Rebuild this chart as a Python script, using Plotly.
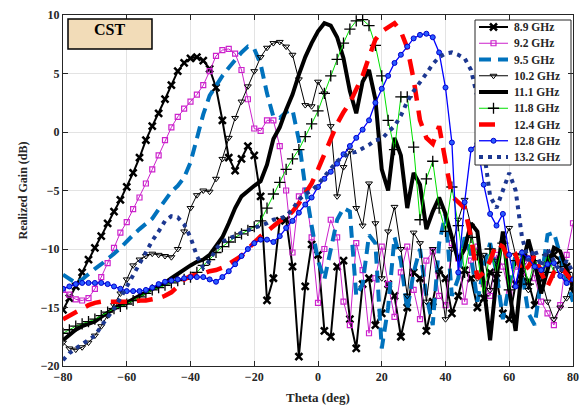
import plotly.graph_objects as go

theta = list(range(-80, 81, 2))

g89 = [-15.2, -14.2, -13.2, -12.0, -10.9, -9.9, -8.9, -7.8, -6.8, -5.8,
       -4.7, -3.5, -2.2, -0.7, 0.5, 1.6, 2.8, 4.0, 5.2, 5.9,
       6.3, 6.4, 6.1, 5.4, 3.8, 1.0, -2.2, -3.3, -2.3, -1.2,
       -2.0, -5.5, -14.4, -12.5, -7.6, -7.5, -11.5, -19.2, -13.2, -9.6,
       -10.5, -17.0, -17.5, -11.5, -11.0, -16.0, -18.5, -13.0, -12.5, -16.5,
       -15.5, -13.0, -14.0, -17.5, -15.0, -12.0, -12.5, -17.0, -14.5, -11.8,
       -12.5, -15.5, -14.0, -11.8, -12.5, -15.0, -14.2, -12.0, -12.5, -15.5,
       -16.0, -13.0, -11.5, -12.8, -14.8, -12.5, -10.8, -10.5, -11.0, -11.5,
       -13.6]

g92 = [-13.5, -13.9, -14.3, -14.4, -14.2, -13.4, -12.4, -11.2, -9.9, -8.6,
       -7.7, -6.6, -5.6, -4.4, -3.2, -2.0, -0.7, 0.4, 1.3, 2.0,
       2.6, 3.2, 4.0, 5.2, 6.5, 7.0, 7.1, 6.7, 5.3, 2.8,
       0.3, 0.1, 1.0, 1.0, -1.2, -5.0, -10.3, -5.5, -5.0, -9.0,
       -14.6, -10.0, -7.5, -9.0, -14.5, -16.5, -9.5, -11.8, -17.2, -12.5,
       -9.8, -13.0, -15.8, -12.0, -9.8, -13.5, -16.0, -11.0, -10.2, -14.0,
       -14.8, -9.5, -10.8, -14.5, -11.0, -9.8, -13.0, -14.0, -10.5, -11.5,
       -13.8, -11.5, -12.0, -10.8, -12.5, -14.5, -15.5, -16.5, -14.8, -10.5,
       -7.8]

g95 = [-12.2, -12.6, -12.9, -12.6, -12.1, -11.7, -11.3, -10.9, -10.4, -9.9,
       -9.3, -8.8, -8.3, -7.9, -7.4, -6.6, -5.8, -5.1, -4.6, -3.9,
       -2.6, -0.6, 1.5, 3.1, 4.0, 4.8, 5.5, 6.2, 6.8, 7.3,
       7.1, 5.8, 3.3, 1.3, 1.2, 1.7, 1.9, -0.7, -4.7, -8.0,
       -11.0, -12.6, -10.0, -7.5, -6.5, -6.8, -14.0, -13.0, -8.8, -9.5,
       -18.5, -15.0, -9.0, -11.0, -15.2, -12.0, -10.0, -14.0, -16.5, -9.5,
       -7.0, -14.0, -12.5, -9.0, -10.5, -14.5, -11.5, -9.5, -12.0, -16.0,
       -13.0, -10.5, -12.0, -15.5, -16.5, -12.5, -8.8, -8.6, -10.5, -12.8,
       -14.5]

g102 = [-18.0, -18.5, -18.6, -18.4, -18.0, -17.4, -16.6, -15.7, -14.8, -13.8,
        -12.6, -11.4, -10.9, -10.6, -10.4, -10.5, -10.6, -10.7, -10.0, -8.5,
        -6.5, -5.4, -5.0, -5.1, -4.0, -2.3, -0.5, 1.2, 2.6, 3.9,
        5.2, 6.4, 7.2, 7.6, 7.7, 7.3, 6.6, 4.5, 2.3, 2.2,
        4.3, 3.3, 0.5, -5.5, -3.0, -1.6, -6.5, -8.0, -4.4, -7.8,
        -12.5, -8.5, -6.4, -10.0, -14.0, -8.6, -9.5, -14.5, -10.0, -12.0,
        -16.0, -10.0, -7.5, -5.8, -8.0, -12.5, -10.5, -13.5, -11.0, -9.5,
        -8.2, -10.5, -12.0, -13.5, -11.5, -12.5, -14.5, -16.0, -15.0, -14.2,
        -12.6]

g111 = [-17.8, -17.3, -16.9, -16.6, -16.4, -16.2, -15.8, -15.4, -15.1, -14.8,
        -14.6, -14.3, -14.0, -13.7, -13.4, -13.2, -12.9, -12.5, -12.1, -11.7,
        -11.4, -11.1, -10.9, -10.5, -9.8, -9.0, -7.8, -6.5, -5.5, -5.0,
        -4.6, -4.2, -2.8, -0.6, 0.4, 1.9, 3.2, 4.9, 6.4, 7.6,
        8.6, 9.3, 9.1, 8.1, 6.3, 3.5, 1.6, 4.3, 5.3, 2.8,
        -3.2, -5.0, -0.5, -2.0, -6.5, -3.5, -4.5, -8.3, -6.8, -5.6,
        -7.0, -9.0, -11.0, -10.0, -7.8, -8.5, -13.5, -17.8, -12.5, -8.5,
        -13.5, -17.0, -11.5, -9.2, -11.2, -13.8, -11.8, -9.9, -10.2, -11.8,
        -13.2]

g118 = [-17.2, -16.9, -16.6, -16.4, -16.2, -16.0, -15.7, -15.4, -15.1, -14.9,
        -14.7, -14.4, -14.1, -13.8, -13.5, -13.3, -13.1, -12.9, -12.7, -12.6,
        -12.4, -12.0, -11.4, -10.9, -10.3, -9.8, -9.4, -9.0, -8.7, -8.4,
        -8.1, -7.6, -6.5, -5.3, -4.3, -3.2, -2.3, -1.5, -0.4, 0.7,
        1.8, 3.3, 4.8, 6.2, 7.6, 8.8, 9.5, 9.6, 9.1, 7.4,
        4.8, 1.0, -1.5, 3.0, 3.0, -1.3, -7.5, -4.0, -2.5, -6.5,
        -8.5, -4.7, -8.0, -12.0, -9.0, -10.5, -14.0, -10.0, -12.0, -9.5,
        -13.5, -11.0, -10.5, -13.0, -11.0, -12.0, -10.5, -12.0, -11.5, -12.0,
        -12.5]

g124 = [-16.0, -15.7, -15.3, -15.0, -14.8, -14.6, -14.5, -14.5, -14.5, -14.5,
        -14.5, -14.5, -14.4, -14.4, -14.3, -14.2, -14.0, -13.7, -13.2, -12.6,
        -12.3, -12.2, -12.1, -11.9, -11.8, -11.6, -11.3, -10.9, -10.6, -10.0,
        -9.4, -8.9, -8.5, -8.0, -7.6, -7.3, -6.8, -6.1, -5.3, -4.4,
        -3.2, -2.0, -0.6, 0.7, 1.7, 2.5, 3.7, 4.8, 6.4, 7.9,
        8.6, 9.0, 9.3, 8.6, 7.2, 4.5, 1.0, -0.5, -1.0, 0.5,
        -2.5, -5.5, -6.0, -6.5, -9.0, -12.5, -12.0, -11.0, -9.5, -9.8,
        -11.0, -10.5, -12.0, -11.5, -10.5, -12.0, -13.2, -12.0, -11.5, -12.2,
        -12.8]

g128 = [-13.4, -13.2, -13.0, -12.9, -12.9, -12.9, -12.9, -13.0, -13.2, -13.4,
        -13.6, -13.6, -13.6, -13.5, -13.3, -13.0, -12.8, -12.7, -12.6, -12.5,
        -12.4, -12.4, -12.4, -12.6, -12.8, -12.4, -11.9, -11.3, -10.6, -10.0,
        -9.5, -9.2, -9.2, -9.4, -8.9, -8.2, -7.6, -6.9, -6.2, -5.6,
        -4.7, -4.0, -3.4, -2.7, -1.9, -1.2, -0.5, 0.2, 1.0, 2.5,
        3.7, 4.8, 5.9, 6.6, 7.3, 8.0, 8.3, 8.4, 8.1, 6.8,
        3.8, -0.9, -12.0, -6.0, -1.5, -1.0, -4.5, -7.0, -8.0, -7.0,
        -10.5, -13.2, -10.3, -10.8, -11.5, -11.8, -11.3, -11.2, -12.3, -12.9,
        -12.6]

g132 = [-19.5, -18.9, -18.5, -18.1, -17.8, -17.4, -16.6, -15.9, -15.1, -14.2,
        -13.2, -12.2, -11.2, -10.3, -9.3, -8.5, -7.6, -7.2, -7.3, -7.9,
        -9.0, -10.6, -11.6, -11.0, -10.0, -9.4, -9.1, -8.9, -8.6, -8.4,
        -8.2, -8.0, -7.8, -7.5, -7.4, -7.2, -6.6, -5.8, -5.3, -5.0,
        -4.5, -3.8, -3.1, -2.5, -2.1, -1.8, -1.7, -1.4, -1.1, -0.7,
        -0.6, 0.0, 0.5, 1.4, 2.6, 3.5, 4.2, 5.0, 5.8, 6.4,
        6.7, 6.8, 6.6, 6.3, 5.3, 3.0, -1.5, -5.5, -6.5, -5.0,
        -3.5, -5.0, -9.0, -11.0, -10.0, -11.5, -10.0, -11.0, -12.0, -11.0,
        -12.0]

names = ["8.9 GHz", "9.2 GHz", "9.5 GHz", "10.2 GHz", "11.1 GHz",
         "11.8 GHz", "12.4 GHz", "12.8 GHz", "13.2 GHz"]
series = [g89, g92, g95, g102, g111, g118, g124, g128, g132]

styles = [
    dict(line=dict(color="black", width=2),
         marker=dict(symbol="x-thin-open", size=7, color="black", line=dict(width=2.5, color="black"))),
    dict(line=dict(color="#cc22cc", width=1),
         marker=dict(symbol="square-open", size=5, color="#cc22cc", line=dict(width=1.2))),
    dict(line=dict(color="#0072BD", width=4, dash="12px,7px"), marker=None),
    dict(line=dict(color="black", width=1),
         marker=dict(symbol="triangle-down-open", size=6, color="black", line=dict(width=1))),
    dict(line=dict(color="black", width=4), marker=None),
    dict(line=dict(color="#00e000", width=1),
         marker=dict(symbol="cross-thin-open", size=8, color="black", line=dict(width=1.3, color="black"))),
    dict(line=dict(color="#ff0000", width=4.5, dash="16px,10px"), marker=None),
    dict(line=dict(color="#0000ff", width=1.3),
         marker=dict(symbol="circle", size=5, color="#2a5cff", line=dict(width=1, color="#0000cc"))),
    dict(line=dict(color="#1c3791", width=4, dash="4px,5px"), marker=None),
]

fig = go.Figure()
for y, name, st in zip(series, names, styles):
    kw = dict(x=theta, y=y, name=name, line=st["line"], showlegend=False,
              mode="lines+markers" if st["marker"] else "lines")
    if st["marker"]:
        kw["marker"] = st["marker"]
    fig.add_trace(go.Scatter(**kw))

# ---- legend drawn on an overlay axis measured in plot pixels ----
leg_box_x = [412, 508, 508, 412, 412]
leg_box_y = [5, 5, 150, 150, 5]
fig.add_trace(go.Scatter(x=leg_box_x, y=leg_box_y, xaxis="x2", yaxis="y2",
                         mode="lines", fill="toself", fillcolor="white",
                         line=dict(color="#262626", width=1), showlegend=False,
                         hoverinfo="skip"))
leg_y0, leg_dy = 12, 16.25
font_serif = "Liberation Serif, Times New Roman, serif"
for i, (name, st) in enumerate(zip(names, styles)):
    yy = leg_y0 + i * leg_dy
    x_end = 432 if i == 6 else 445
    fig.add_trace(go.Scatter(x=[416, x_end], y=[yy, yy], xaxis="x2", yaxis="y2",
                             mode="lines", line=st["line"], showlegend=False,
                             hoverinfo="skip"))
    if st["marker"]:
        fig.add_trace(go.Scatter(x=[430.5], y=[yy], xaxis="x2", yaxis="y2",
                                 mode="markers", marker=st["marker"],
                                 showlegend=False, hoverinfo="skip"))
    fig.add_annotation(text="<b>%s</b>" % name, xref="x2", yref="y2",
                       x=449, y=yy, xanchor="left", yanchor="middle",
                       showarrow=False,
                       font=dict(family=font_serif, size=11.5, color="#262626"))

fig.update_layout(
    width=582, height=407,
    margin=dict(l=63, r=9, t=15, b=41),
    paper_bgcolor="white", plot_bgcolor="white",
    font=dict(family=font_serif, size=12, color="#262626"),
    showlegend=False,
    xaxis2=dict(overlaying="x", range=[0, 510], visible=False, fixedrange=True),
    yaxis2=dict(overlaying="y", range=[351, 0], visible=False, fixedrange=True),
)

fig.update_layout(xaxis=dict(
    range=[-80, 80], tickmode="array", tickvals=list(range(-80, 81, 20)),
    ticks="inside", ticklen=5, tickcolor="#262626", automargin=False,
    showline=True, linecolor="#262626", linewidth=1, mirror="allticks",
    showgrid=True, gridcolor="#e3e3e3", gridwidth=1, zeroline=False,
    tickfont=dict(family=font_serif, size=12, color="#262626", weight="bold"),
    title=dict(text="<b>Theta (deg)</b>", font=dict(family=font_serif, size=13, color="#262626"), standoff=9),
))
fig.update_layout(yaxis=dict(
    range=[-20, 10], tickmode="array", tickvals=[-20, -15, -10, -5, 0, 5, 10],
    ticks="inside", ticklen=5, tickcolor="#262626", automargin=False,
    showline=True, linecolor="#262626", linewidth=1, mirror="allticks",
    showgrid=True, gridcolor="#e3e3e3", gridwidth=1, zeroline=False,
    tickfont=dict(family=font_serif, size=12, color="#262626", weight="bold"),
    title=dict(text="<b>Realized Gain (dB)</b>", font=dict(family=font_serif, size=12, color="#262626"), standoff=10),
))

fig.add_shape(type="rect", xref="paper", yref="paper",
              x0=0.0098, x1=0.1745, y0=0.903, y1=0.9886,
              fillcolor="#f2dcb8", line=dict(color="black", width=1.5), layer="above")
fig.add_annotation(text="<b>CST</b>", xref="paper", yref="paper",
                   x=0.092, y=0.96, xanchor="center", yanchor="middle", showarrow=False,
                   font=dict(family=font_serif, size=16, color="black"))

fig.write_html("out.html")
